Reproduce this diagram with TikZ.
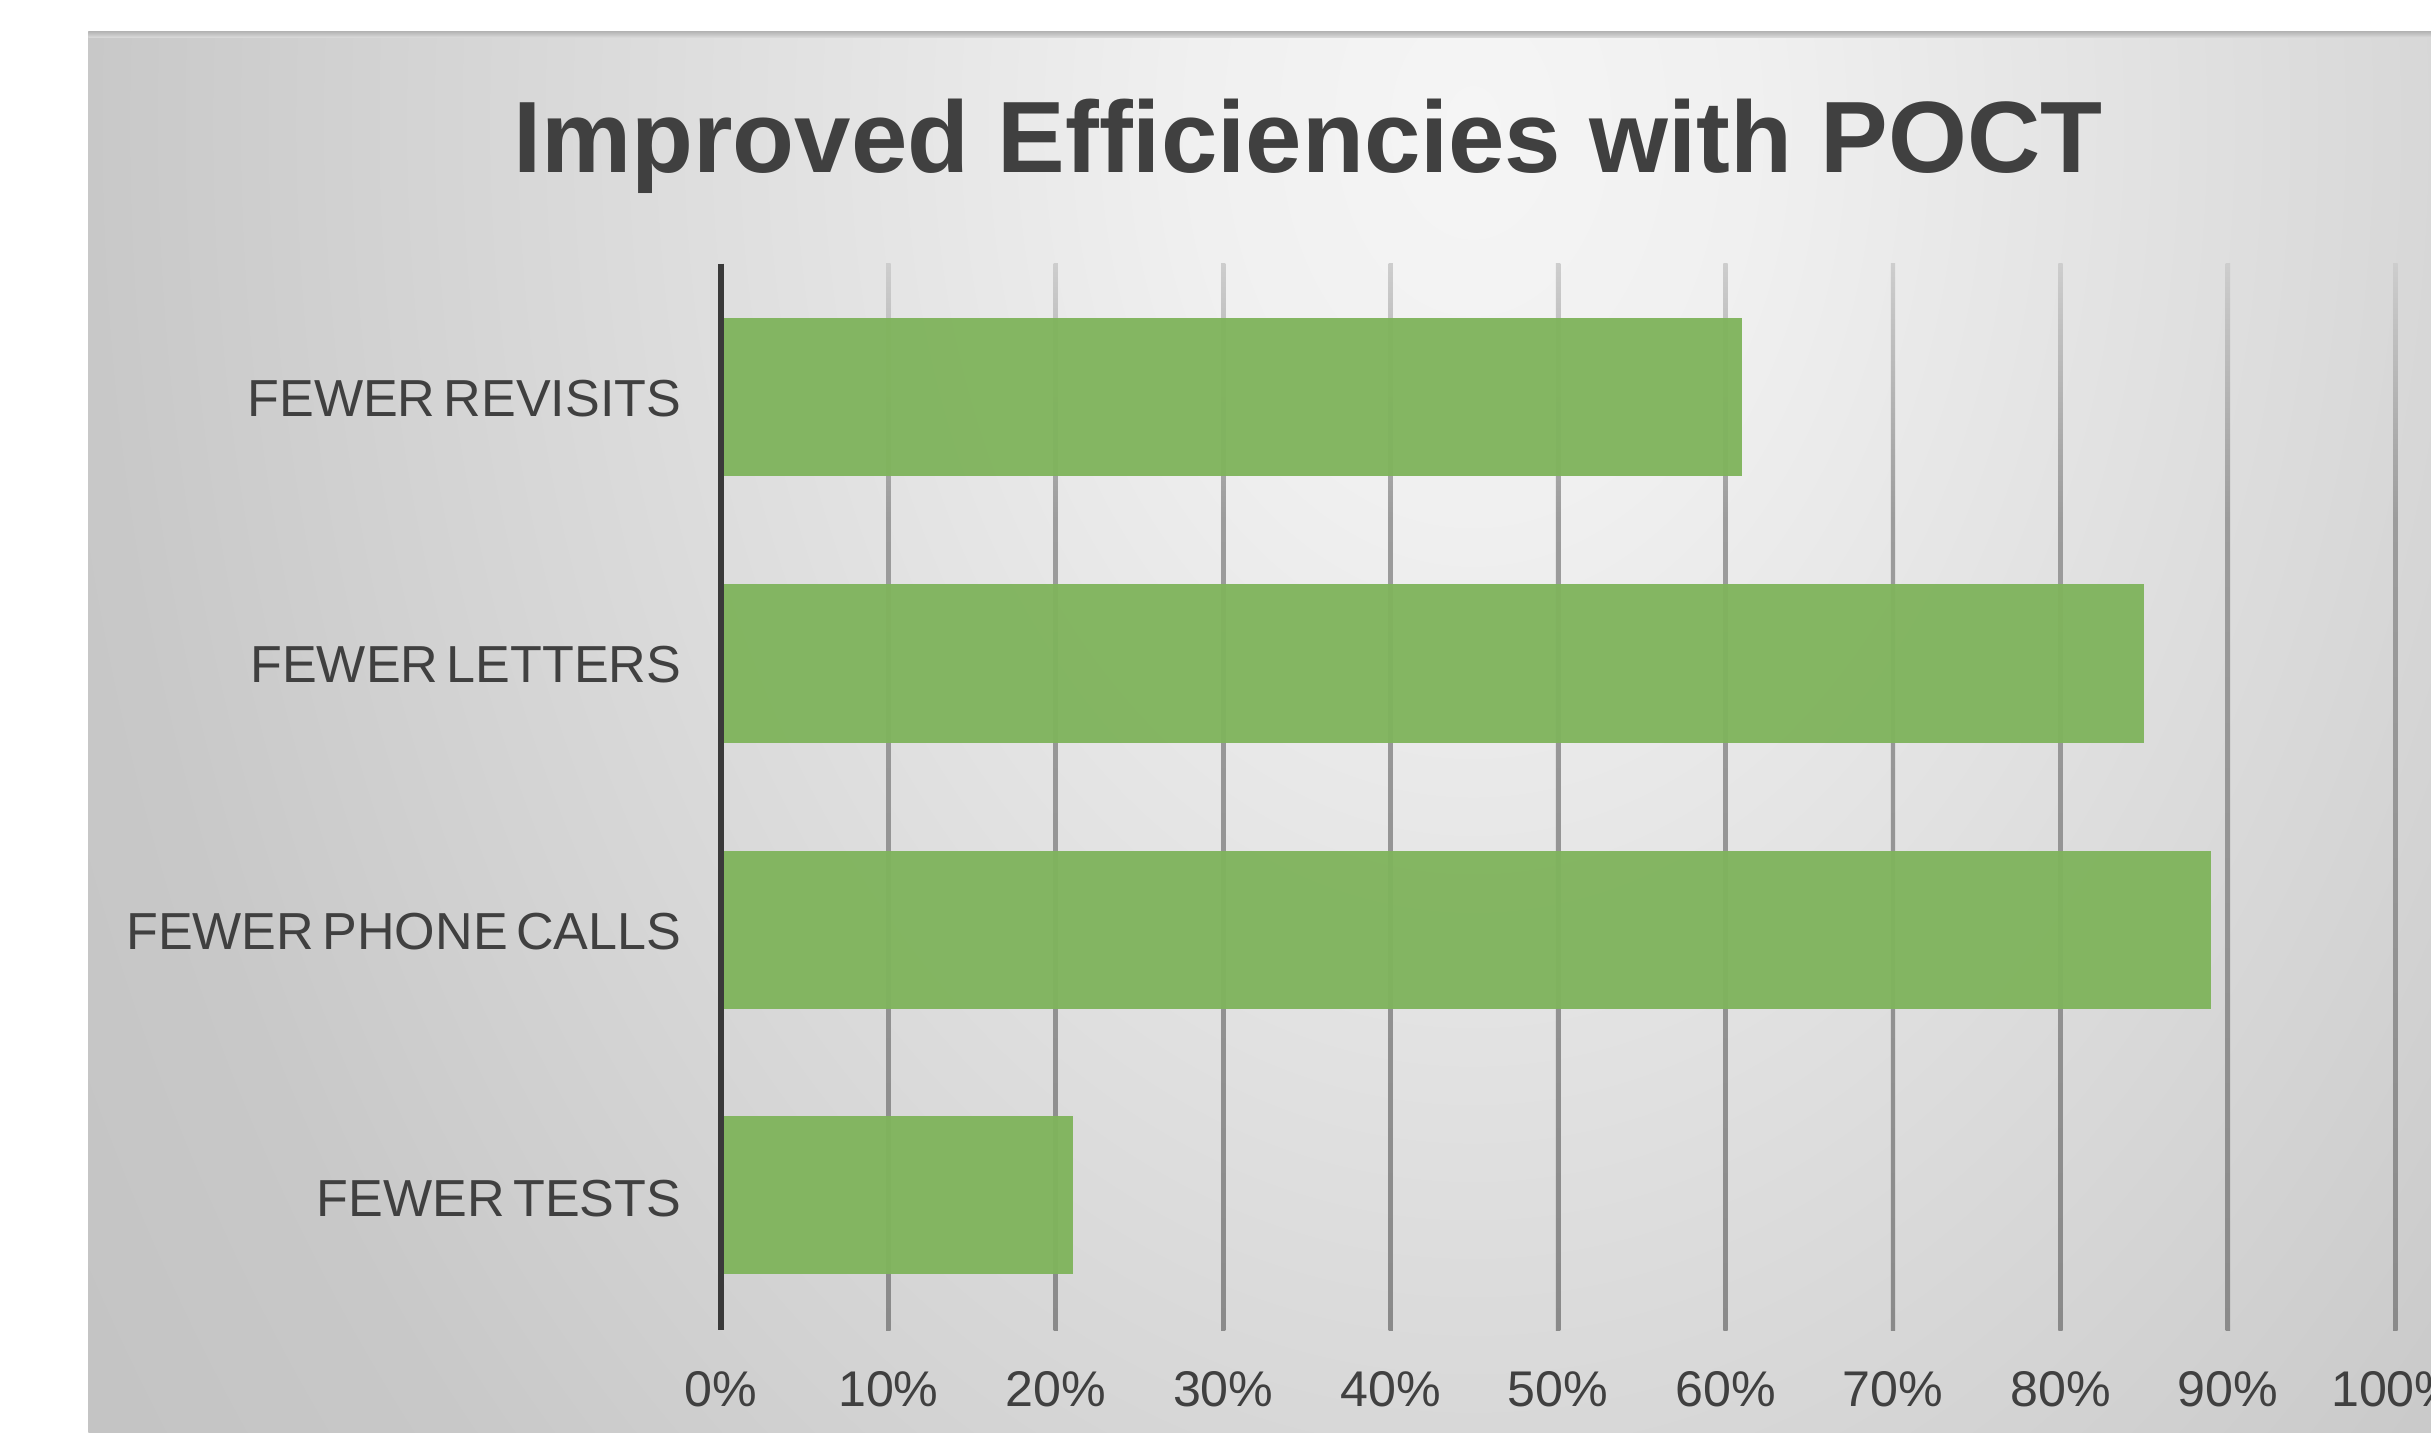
\documentclass[tikz,border=0pt]{standalone}
\usepackage{fontspec}
\setmainfont{Liberation Sans}
\definecolor{txt}{HTML}{404040}
\definecolor{axiscol}{HTML}{3A3A3A}
\definecolor{barcol}{HTML}{80B45D}
\definecolor{bgA}{HTML}{F5F5F5}
\definecolor{bgB}{HTML}{F0F0F0}
\definecolor{bgC}{HTML}{C8C8C8}
\definecolor{bgD}{HTML}{C2C2C2}
\definecolor{gB}{HTML}{8A8A8A}
\definecolor{gM}{HTML}{9C9C9C}
\definecolor{gT}{HTML}{CDCDCD}
\definecolor{bandA}{HTML}{B2B2B2}
\definecolor{bandB}{HTML}{D8D8D8}
\pgfdeclareradialshading{bgshade}{\pgfpoint{0bp}{0bp}}{color(0bp)=(bgA); color(5bp)=(bgB); color(25bp)=(bgC); color(32bp)=(bgD); color(50bp)=(bgD)}
\pgfdeclareverticalshading{gridsh}{100bp}{color(0bp)=(gB); color(25bp)=(gB); color(63bp)=(gM); color(75bp)=(gT); color(100bp)=(gT)}
\newcommand\mycatfont{\fontsize{9.55pt}{11pt}\selectfont\spaceskip=0.16em plus 0.02em\relax}
\tikzset{
  titlestyle/.style={inner sep=0pt, text=txt, font=\fontsize{18.6pt}{22pt}\selectfont\bfseries},
  catlabel/.style={inner sep=0pt, text=txt, font=\mycatfont},
  ticklabel/.style={inner sep=0pt, text=txt, font=\fontsize{9.2pt}{11pt}\selectfont},
  barstyle/.style={fill=barcol, fill opacity=0.96},
  gridstyle/.style={shading=gridsh},
  axisstyle/.style={draw=axiscol, line width=1.25pt}
}
\begin{document}
\begin{tikzpicture}[x=0.01cm, y=-0.01cm]
\useasboundingbox (0,0) rectangle (1568,924);
\clip (0,0) rectangle (1568,924);
\fill[white] (0,0) rectangle (1568,924);
% background
\begin{scope}
  \clip (57,20) rectangle (1568,924);
  \shade[shading=bgshade] (57,-1160) rectangle (1843,1320);
  \shade[top color=bandA, bottom color=bandB] (57,20) rectangle (1568,24);
\end{scope}
% title
\node[titlestyle, anchor=base] (title) at (843.5,111) {Improved Efficiencies with POCT};
% gridlines
\foreach \k in {1,...,10} {
  \shade[gridstyle] ({465+108*\k-1.4},170) rectangle ({465+108*\k+1.4},858);
}
% bars
\fill[barstyle] (465,205) rectangle ({465+10.8*61},307);
\fill[barstyle] (465,377) rectangle ({465+10.8*85},479);
\fill[barstyle] (465,549) rectangle ({465+10.8*89},651);
\fill[barstyle] (465,720) rectangle ({465+10.8*21},822);
% axis
\coordinate (axtop) at (465,170);
\coordinate (axbot) at (465,858);
\draw[axisstyle] (axtop) -- (axbot);
% category labels
\node[catlabel, anchor=base east] (c1) at (440,268.5) {FEWER REVISITS};
\node[catlabel, anchor=base east] (c2) at (440,440.5) {FEWER LETTERS};
\node[catlabel, anchor=base east] (c3) at (440,612.5) {FEWER PHONE CALLS};
\node[catlabel, anchor=base east] (c4) at (440,784.5) {FEWER TESTS};
% tick labels
\foreach \k/\t in {0/0\%,1/10\%,2/20\%,3/30\%,4/40\%,5/50\%,6/60\%,7/70\%,8/80\%,9/90\%,10/100\%} {
  \node[ticklabel, anchor=base] (tick\k) at ({465+108*\k},907) {\t};
}
\end{tikzpicture}
\end{document}
